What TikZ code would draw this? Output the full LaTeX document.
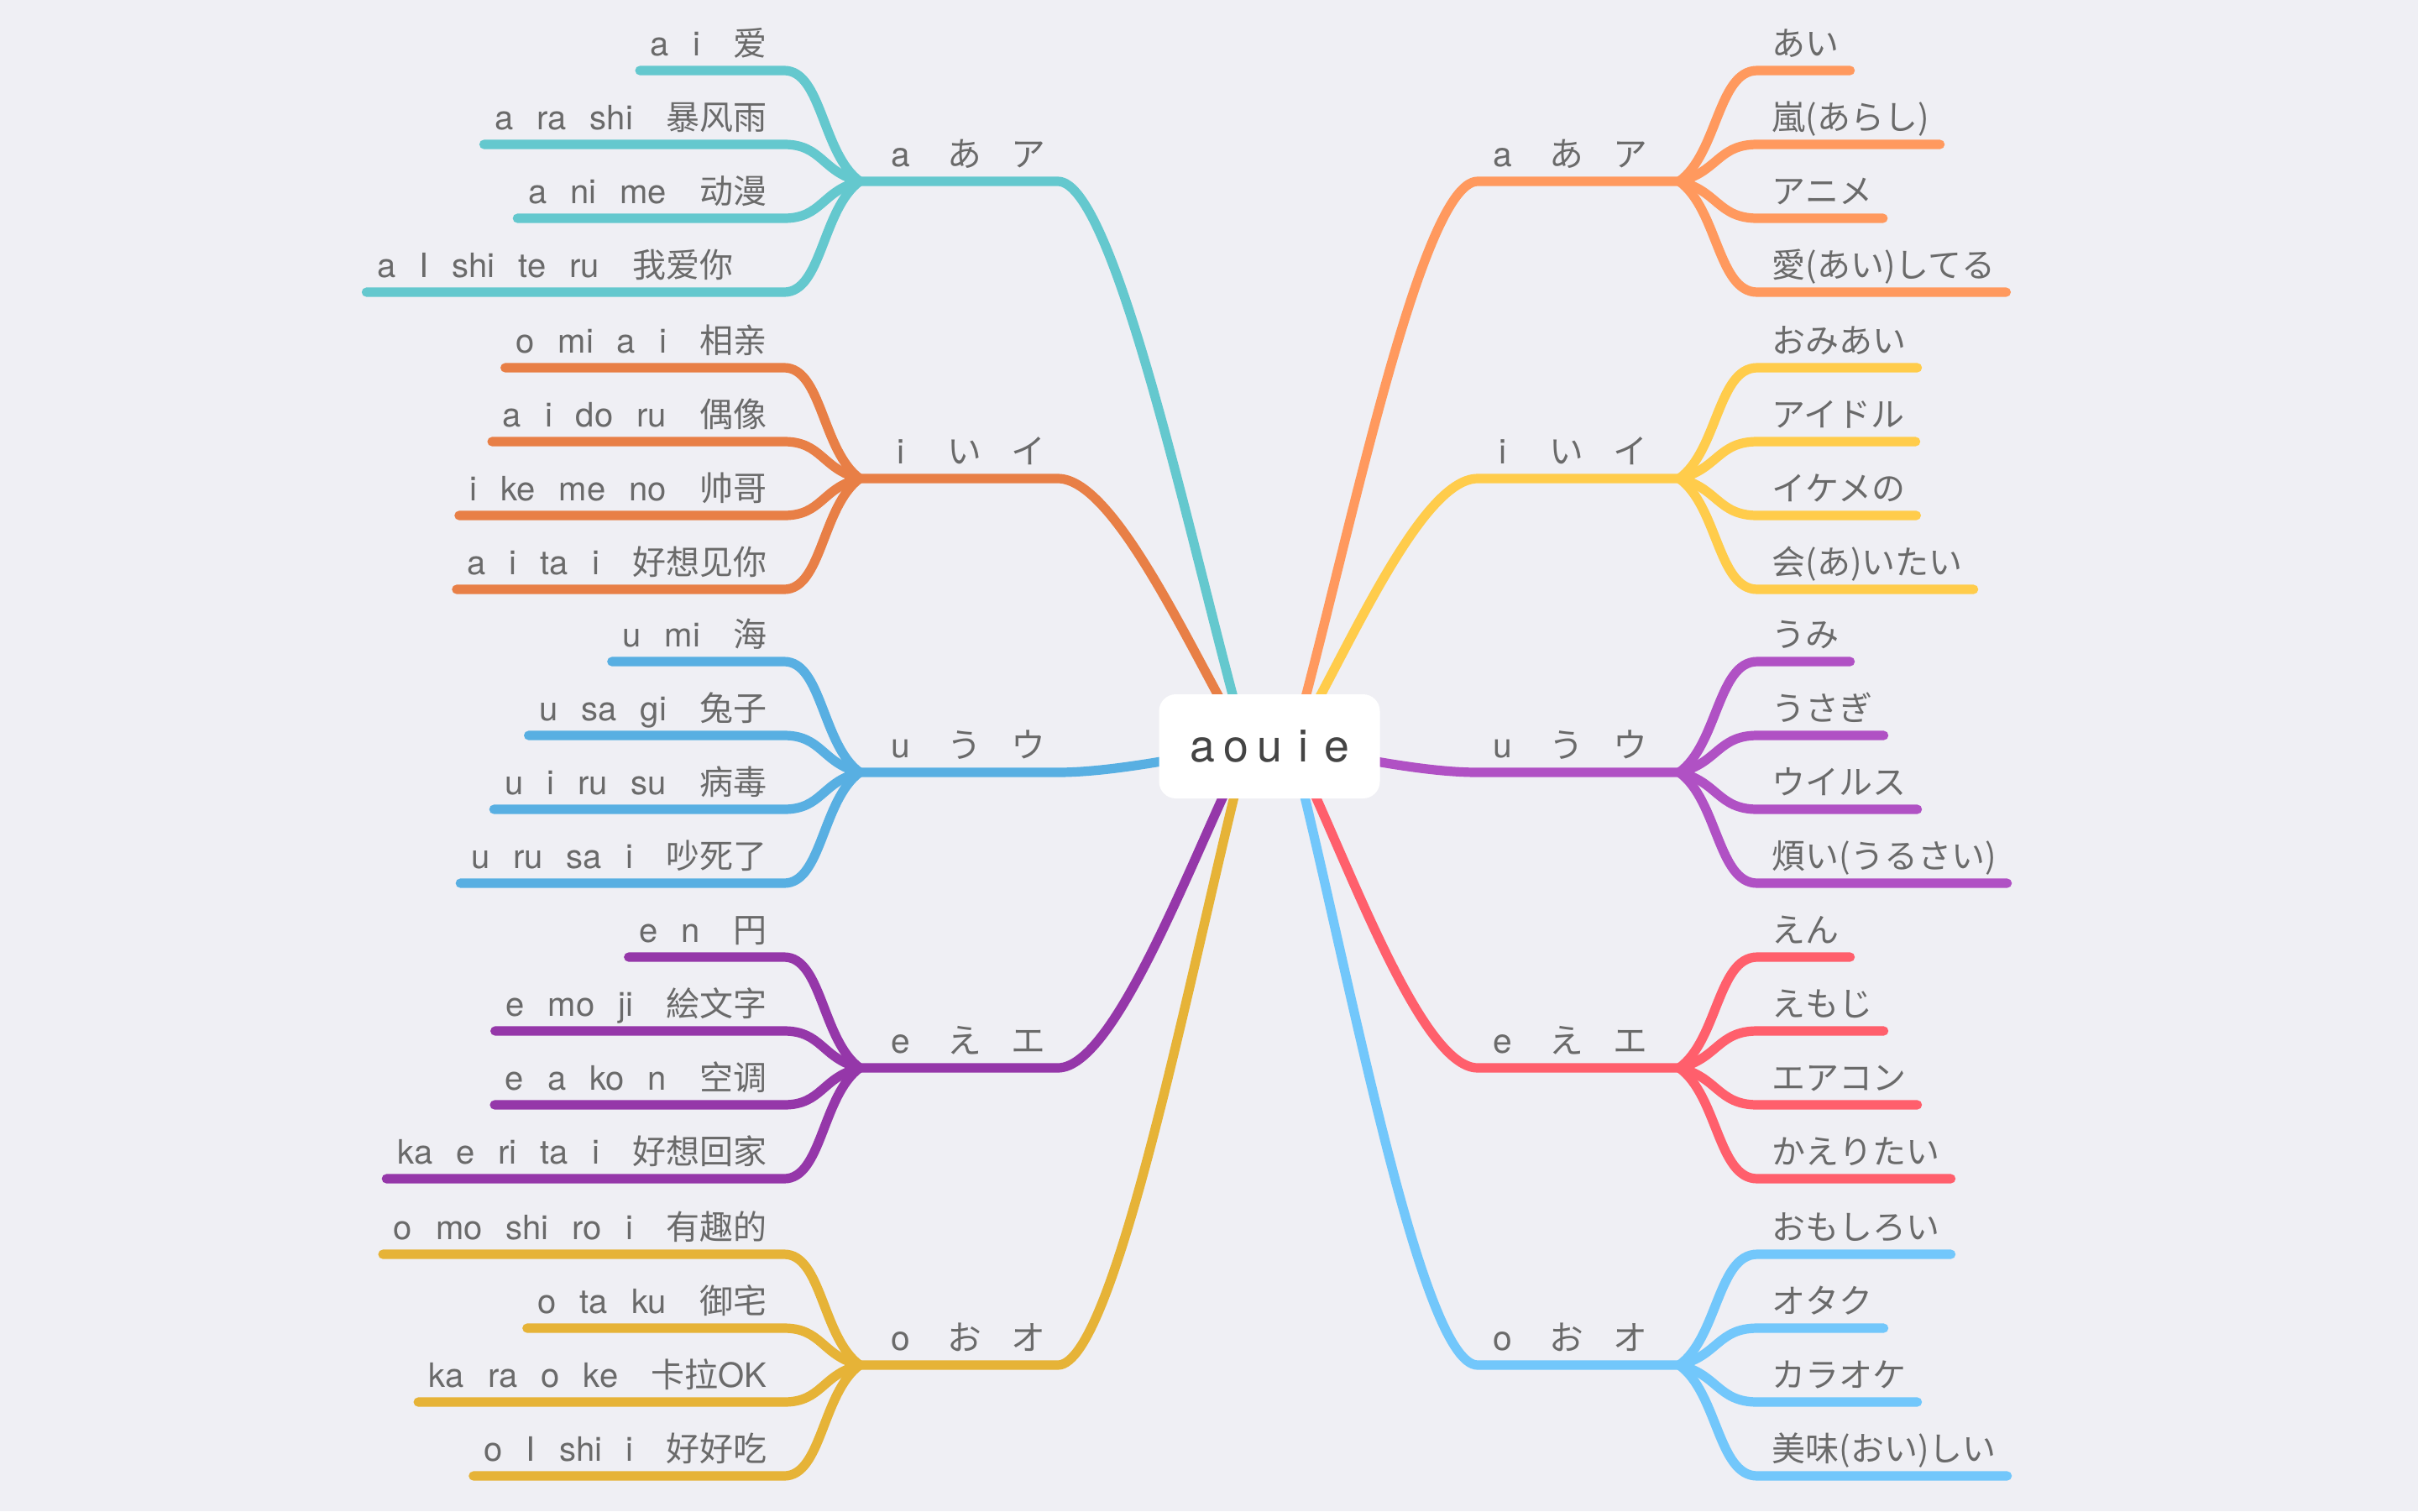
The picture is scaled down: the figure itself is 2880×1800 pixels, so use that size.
\documentclass[tikz,border=0pt]{standalone}
\usepackage{fontspec}
\setmainfont{TeX Gyre Heros}
\newfontfamily\cjk{Noto Sans CJK SC}
\usetikzlibrary{calc}
\definecolor{bgc}{HTML}{EFEFF4}
\definecolor{txt}{HTML}{6A6A6A}
\definecolor{roottxt}{HTML}{444444}
\definecolor{cTeal}{HTML}{64C8CE}
\definecolor{cOrgD}{HTML}{E87F46}
\definecolor{cBlue}{HTML}{58AFE2}
\definecolor{cPurD}{HTML}{9537A9}
\definecolor{cGold}{HTML}{E6B337}
\definecolor{cOrgL}{HTML}{FF995E}
\definecolor{cYel}{HTML}{FFCC4B}
\definecolor{cPurL}{HTML}{B051C4}
\definecolor{cRed}{HTML}{FF5F6C}
\definecolor{cSky}{HTML}{72C7FB}
\pgfdeclarelayer{backdrop}
\pgfdeclarelayer{bg}
\pgfsetlayers{backdrop,bg,main}
\tikzset{
  branch/.style={draw=#1, line width=2.8pt, line cap=round, line join=round},
  mainlab/.style={inner sep=0pt, text=txt, font=\fontsize{10.2}{12}\selectfont},
  childtxt/.style={inner sep=0pt, text=txt, font=\fontsize{10}{12}\selectfont},
  rchildtxt/.style={inner sep=0pt, text=txt, font=\fontsize{10}{12}\selectfont\cjk},
  rootbox/.style={fill=white, rounded corners=5pt, minimum width=65.75pt, minimum height=31pt,
    inner sep=0pt, text=roottxt, font=\fontsize{13.4}{14}\selectfont}
}
\newcommand\zsa{\hspace{7pt}}
\newcommand\zsb{\hspace{9.8pt}}
\newcommand\lab[3]{\makebox[19pt]{#1}\makebox[19pt]{#2}\makebox[19pt]{#3}}
% left child: name,color,yb,idx,offset,text
\newcommand\LC[6]{%
  \coordinate (#1-s#4) at (934,{#3+(#5)});
  \node[childtxt,anchor=base east] (#1-c#4) at (914,{#3+(#5)-18}) {#6};
  \begin{pgfonlayer}{bg}
  \draw[branch=#2,shorten <=-3pt] (#1-c#4.west |- #1-s#4) -- (#1-s#4)
     .. controls (979,{#3+(#5)}) and ($(#1-j)+(-45,{0.25*(#5)})$) .. (#1-j);
  \end{pgfonlayer}
}
\newcommand\RC[6]{%
  \coordinate (#1-s#4) at (2093,{#3+(#5)});
  \node[rchildtxt,anchor=base west] (#1-c#4) at (2110,{#3+(#5)-18}) {#6};
  \begin{pgfonlayer}{bg}
  \draw[branch=#2,shorten >=-3pt] (#1-j)
     .. controls ($(#1-j)+(46,{0.25*(#5)})$) and (2046,{#3+(#5)}) .. (#1-s#4)
     -- (#1-c#4.east |- #1-s#4);
  \end{pgfonlayer}
}
% branch: name,color,yb,label,c1..c4
\newcommand\LB[8]{%
  \coordinate (#1-end) at (1260,#3);
  \coordinate (#1-j) at (1024,#3);
  \begin{pgfonlayer}{bg}
  \draw[branch=#2] ($(root)+(-27,0)$) .. controls ($(root)+(-87,{0.31*(#3-889)})$) and (1330,#3) .. (#1-end) -- (#1-j);
  \end{pgfonlayer}
  \node[mainlab,anchor=base] (#1-lab) at (1149,{#3-18}) {#4};
  \LC{#1}{#2}{#3}{1}{-132}{#5}
  \LC{#1}{#2}{#3}{2}{-44}{#6}
  \LC{#1}{#2}{#3}{3}{44}{#7}
  \LC{#1}{#2}{#3}{4}{132}{#8}
}
\newcommand\RB[8]{%
  \coordinate (#1-end) at (1760,#3);
  \coordinate (#1-j) at (2000,#3);
  \begin{pgfonlayer}{bg}
  \draw[branch=#2] ($(root)+(27,0)$) .. controls ($(root)+(87,{0.31*(#3-889)})$) and (1690,#3) .. (#1-end) -- (#1-j);
  \end{pgfonlayer}
  \node[mainlab,anchor=base] (#1-lab) at (1866,{#3-18}) {#4};
  \RC{#1}{#2}{#3}{1}{-132}{#5}
  \RC{#1}{#2}{#3}{2}{-44}{#6}
  \RC{#1}{#2}{#3}{3}{44}{#7}
  \RC{#1}{#2}{#3}{4}{132}{#8}
}
\begin{document}
\begin{tikzpicture}[x=0.25pt,y=-0.25pt]
\begin{pgfonlayer}{backdrop}
\fill[bgc] (0,0) rectangle (2880,1800);
\end{pgfonlayer}
\useasboundingbox (0,0) rectangle (2880,1800);
\node[rootbox] (root) at (1512,889) {\makebox[10pt]{a}\makebox[10pt]{o}\makebox[10pt]{u}\makebox[10pt]{i}\makebox[10pt]{e}};

\LB{la}{cTeal}{216}{\lab{a}{\cjk あ}{\cjk ア}}{a\zsa i\zsb\cjk 爱}{a\zsa ra\zsa shi\zsb\cjk 暴风雨}{a\zsa ni\zsa me\zsb\cjk 动漫}{a\zsa I\zsa shi\zsa te\zsa ru\zsb{\cjk 我爱你}\kern10pt}
\LB{li}{cOrgD}{570}{\lab{i}{\cjk い}{\cjk イ}}{o\zsa mi\zsa a\zsa i\zsb\cjk 相亲}{a\zsa i\zsa do\zsa ru\zsb\cjk 偶像}{i\zsa ke\zsa me\zsa no\zsb\cjk 帅哥}{a\zsa i\zsa ta\zsa i\zsb\cjk 好想见你}
\LB{lu}{cBlue}{920}{\lab{u}{\cjk う}{\cjk ウ}}{u\zsa mi\zsb\cjk 海}{u\zsa sa\zsa gi\zsb\cjk 兔子}{u\zsa i\zsa ru\zsa su\zsb\cjk 病毒}{u\zsa ru\zsa sa\zsa i\zsb\cjk 吵死了}
\LB{le}{cPurD}{1272}{\lab{e}{\cjk え}{\cjk エ}}{e\zsa n\zsb\cjk 円}{e\zsa mo\zsa ji\zsb\cjk 絵文字}{e\zsa a\zsa ko\zsa n\zsb\cjk 空调}{ka\zsa e\zsa ri\zsa ta\zsa i\zsb\cjk 好想回家}
\LB{lo}{cGold}{1626}{\lab{o}{\cjk お}{\cjk オ}}{o\zsa mo\zsa shi\zsa ro\zsa i\zsb\cjk 有趣的}{o\zsa ta\zsa ku\zsb\cjk 御宅}{ka\zsa ra\zsa o\zsa ke\zsb{\cjk 卡拉}OK}{o\zsa I\zsa shi\zsa i\zsb\cjk 好好吃}

\RB{ra}{cOrgL}{216}{\lab{a}{\cjk あ}{\cjk ア}}{あい}{嵐(あらし)}{アニメ}{愛(あい)してる}
\RB{ri}{cYel}{570}{\lab{i}{\cjk い}{\cjk イ}}{おみあい}{アイドル}{イケメの}{会(あ)いたい}
\RB{ru}{cPurL}{920}{\lab{u}{\cjk う}{\cjk ウ}}{うみ}{うさぎ}{ウイルス}{煩い(うるさい)}
\RB{re}{cRed}{1272}{\lab{e}{\cjk え}{\cjk エ}}{えん}{えもじ}{エアコン}{かえりたい}
\RB{ro}{cSky}{1626}{\lab{o}{\cjk お}{\cjk オ}}{おもしろい}{オタク}{カラオケ}{美味(おい)しい}
\end{tikzpicture}
\end{document}
